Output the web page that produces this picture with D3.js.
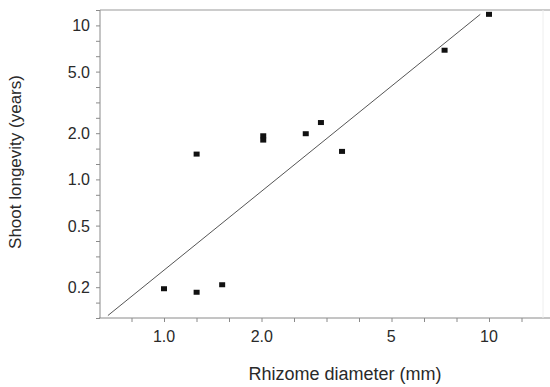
<!DOCTYPE html>
<html>
<head>
<meta charset="utf-8">
<script src="https://cdn.jsdelivr.net/npm/d3@7"></script>
<style>
  body { margin: 0; background: #fff; }
  text { font-family: "Liberation Sans", Arial, sans-serif; fill: #2a2a2a; }
</style>
</head>
<body>
<div id="chart"></div>
<script>
// Rhizome diameter (mm) vs shoot longevity (years)
const diameter  = [1.0, 1.26, 1.51, 1.26, 2.02, 2.02, 2.73, 3.04, 3.53, 7.3, 10.0];
const longevity = [0.195, 0.185, 0.207, 1.46, 1.92, 1.80, 1.98, 2.34, 1.52, 6.9, 11.8];

// fitted line end points
const fitX = [0.672, 9.4];
const fitY = [0.1306, 11.8];

const xTickValues = [1, 2, 5, 10];
const xTickLabels = ["1.0", "2.0", "5", "10"];
const yTickValues = [0.2, 0.5, 1, 2, 5, 10];
const yTickLabels = ["0.2", "0.5", "1.0", "2.0", "5.0", "10"];

const width = 550, height = 387;

const svg = d3.select("#chart").append("svg")
    .attr("width", width)
    .attr("height", height);

const x = d3.scaleLog()
    .domain([Math.pow(10, -0.2), Math.pow(10, 1.2)])
    .range([99, 554]);

const y = d3.scaleLog()
    .domain([Math.pow(10, -0.9), Math.pow(10, 1.1)])
    .range([318, 10]);

const axisColor = "#8a8a8a";

// minor tick marks every tenth of a decade
const xMinor = d3.range(-1, 12).map(k => Math.pow(10, k / 10));
const yMinor = d3.range(-9, 12).map(k => Math.pow(10, k / 10));

// Add the x-axis
const xAxis = svg.append("g")
    .attr("transform", "translate(0,318)")
    .call(d3.axisBottom(x).tickValues(xMinor).tickSize(4).tickFormat(""));
xAxis.select(".domain").remove();
xAxis.selectAll("line").attr("stroke", axisColor);
xAxis.append("line")
    .attr("x1", 99).attr("x2", 550)
    .attr("stroke", axisColor);

svg.append("g").selectAll("text")
    .data(xTickValues)
    .enter().append("text")
    .attr("x", d => x(d))
    .attr("y", 342)
    .attr("text-anchor", "middle")
    .style("font-size", "16px")
    .text((d, i) => xTickLabels[i]);

// Add the y-axis
const yAxis = svg.append("g")
    .attr("transform", "translate(100,0)")
    .call(d3.axisLeft(y).tickValues(yMinor).tickSize(4).tickFormat(""));
yAxis.select(".domain").remove();
yAxis.selectAll("line").attr("stroke", axisColor);
yAxis.append("line")
    .attr("y1", 10).attr("y2", 318)
    .attr("stroke", axisColor);

svg.append("g").selectAll("text")
    .data(yTickValues)
    .enter().append("text")
    .attr("x", 90)
    .attr("y", d => y(d) + 6)
    .attr("text-anchor", "end")
    .style("font-size", "16px")
    .text((d, i) => yTickLabels[i]);

// frame on top and right
svg.append("line")
    .attr("x1", 100).attr("x2", 550)
    .attr("y1", 10).attr("y2", 10)
    .attr("stroke", "#999");
svg.append("line")
    .attr("x1", 543).attr("x2", 543)
    .attr("y1", 10).attr("y2", 318)
    .attr("stroke", "#eee");

// fitted line
svg.append("line")
    .attr("x1", x(fitX[0])).attr("y1", y(fitY[0]))
    .attr("x2", x(fitX[1])).attr("y2", y(fitY[1]))
    .attr("stroke", "#555")
    .attr("stroke-width", 1);

// points
svg.selectAll(".dot")
    .data(diameter.map((d, i) => ({ d: d, l: longevity[i] })))
    .enter().append("rect")
    .attr("class", "dot")
    .attr("x", p => x(p.d) - 3)
    .attr("y", p => y(p.l) - 2.5)
    .attr("width", 6)
    .attr("height", 5)
    .attr("fill", "#111");

// axis titles
svg.append("text")
    .attr("x", 345)
    .attr("y", 380)
    .attr("text-anchor", "middle")
    .style("font-size", "18px")
    .text("Rhizome diameter (mm)");

svg.append("text")
    .attr("transform", "translate(21,162) rotate(-90)")
    .attr("text-anchor", "middle")
    .style("font-size", "17px")
    .text("Shoot longevity (years)");
</script>
</body>
</html>
